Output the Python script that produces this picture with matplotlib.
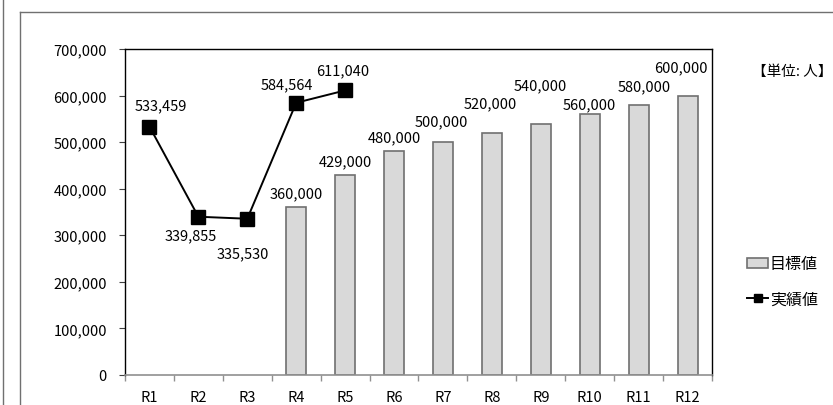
import matplotlib
matplotlib.use("Agg")
import matplotlib.pyplot as plt
from matplotlib.lines import Line2D
from matplotlib.patches import Patch
from matplotlib.ticker import FuncFormatter

plt.rcParams['font.family'] = ['Noto Sans CJK JP', 'DejaVu Sans']

# データ
years = ['R1', 'R2', 'R3', 'R4', 'R5', 'R6', 'R7', 'R8', 'R9', 'R10', 'R11', 'R12']
target = [None, None, None, 360000, 429000, 480000, 500000, 520000, 540000, 560000, 580000, 600000]  # 目標値
actual = [533459, 339855, 335530, 584564, 611040]  # 実績値

# ラベル位置の調整 (ピクセル)
bar_lbl_dx = [0, 0, 0, 0, 0, 0, -2, -2, -1, 0, 6, -7]
bar_lbl_dy = [0, 0, 0, 14, 14, 14, 21, 30, 38, 10, 19, 28]
line_lbl_dx = [11, -8, -4, -9, -2]
line_lbl_dy = [21, -19, -35, 18, 20]

W, H = 833, 406
fig = plt.figure(figsize=(W / 100, H / 100), dpi=100)
fs = 10.5

# 外枠
fig.add_artist(Line2D([3 / W, 3 / W], [0, 1], color='#707070', lw=1))
fig.add_artist(Line2D([20 / W, 20 / W], [0, 1 - 13 / H], color='#707070', lw=1))
fig.add_artist(Line2D([20 / W, 1], [1 - 13 / H, 1 - 13 / H], color='#707070', lw=1))

ax = fig.add_axes([125 / W, (H - 376) / H, (712 - 125) / W, (376 - 50) / H])

xs = list(range(len(years)))
bx = [x for x, v in zip(xs, target) if v is not None]
bv = [v for v in target if v is not None]
ax.bar(bx, bv, width=0.41, color='#d9d9d9', edgecolor='#707070', linewidth=1.2, zorder=2)

ax.plot(xs[:len(actual)], actual, color='black', lw=1.4, marker='s', markersize=9.5,
        markerfacecolor='black', markeredgecolor='black', zorder=3)

px = 0.72  # 1ピクセル = 0.72pt
for i, v in enumerate(target):
    if v is None:
        continue
    ax.annotate(f'{v:,}', (i, v), xytext=(bar_lbl_dx[i] * px, bar_lbl_dy[i] * px),
                textcoords='offset points', ha='center', va='center', fontsize=fs)
for i, v in enumerate(actual):
    ax.annotate(f'{v:,}', (i, v), xytext=(line_lbl_dx[i] * px, line_lbl_dy[i] * px),
                textcoords='offset points', ha='center', va='center', fontsize=fs)

ax.set_xlim(-0.5, len(years) - 0.5)
ax.set_ylim(0, 700000)
ax.set_yticks(range(0, 700001, 100000))
ax.yaxis.set_major_formatter(FuncFormatter(lambda v, p: f'{int(v):,}'))
ax.set_xticks(xs)
ax.set_xticklabels(years)
ax.set_xticks([x - 0.5 for x in xs] + [len(years) - 0.5], minor=True)
ax.tick_params(axis='x', which='major', length=0, pad=11, labelsize=fs)
ax.tick_params(axis='x', which='minor', length=4, color='#909090', width=1)
ax.tick_params(axis='y', length=4, color='#404040', labelsize=fs, pad=9)

for s in ['top', 'right', 'left']:
    ax.spines[s].set_color('black')
    ax.spines[s].set_linewidth(1)
ax.spines['bottom'].set_color('#909090')
ax.spines['bottom'].set_linewidth(1.2)

fig.text(752 / W, 1 - 72 / H, '【単位: 人】', fontsize=10.5, ha='left', va='center')

handles = [Patch(facecolor='#d9d9d9', edgecolor='#707070', linewidth=1.2),
           Line2D([0], [0], color='black', lw=1.4, marker='s', markersize=6)]
fig.legend(handles, ['目標値', '実績値'], loc='upper left',
           bbox_to_anchor=(733 / W, 1 - 242 / H), frameon=False, fontsize=11.5,
           handlelength=1.3, handleheight=0.6, handletextpad=0.1, labelspacing=1.15)

fig.savefig('out.png', dpi=100)
